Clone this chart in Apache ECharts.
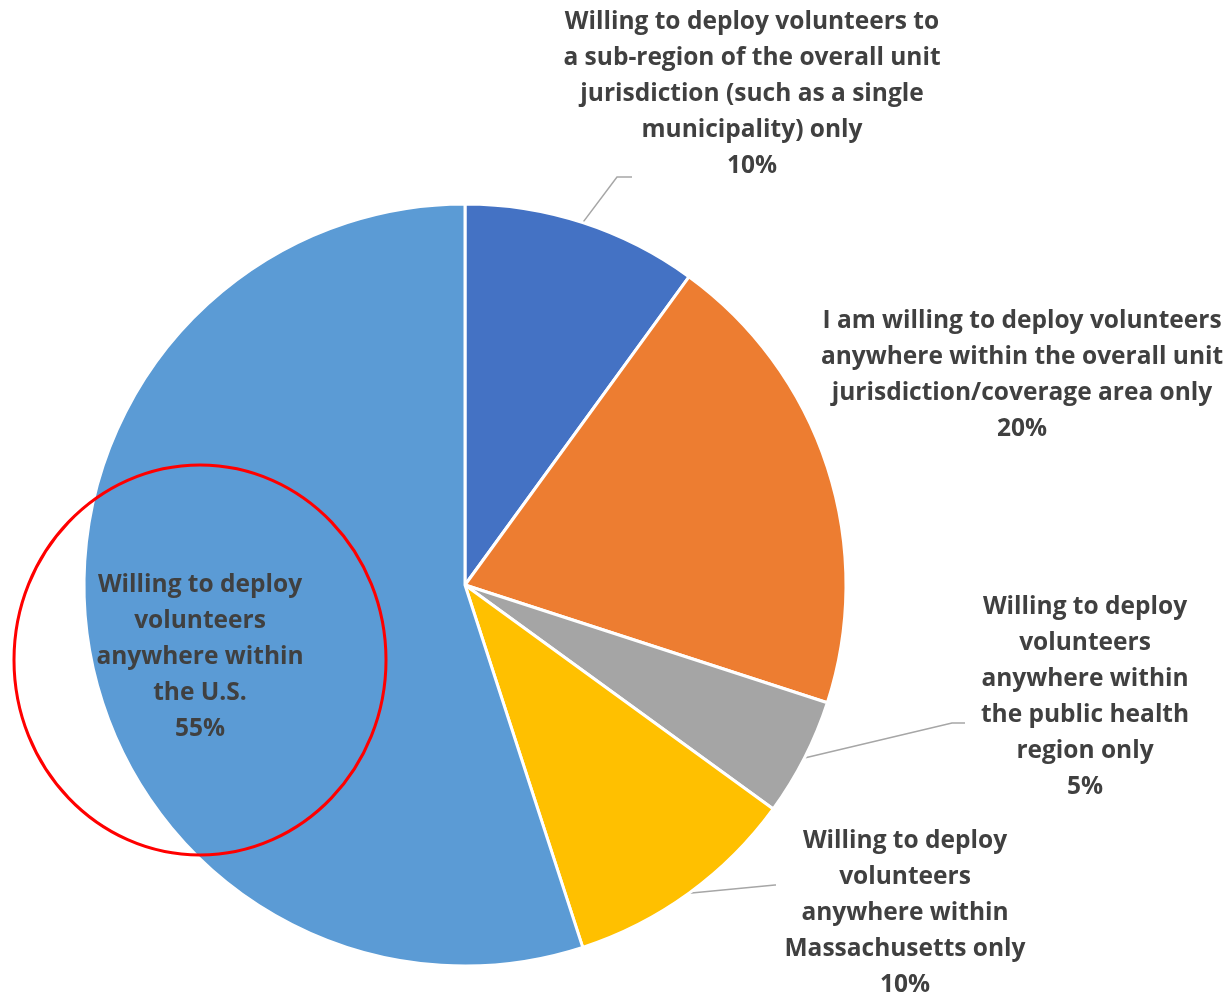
<!DOCTYPE html>
<html>
<head>
<meta charset="utf-8">
<script src="https://cdn.jsdelivr.net/npm/echarts@6/dist/echarts.min.js"></script>
<style>
  html, body { margin: 0; padding: 0; background: #fff; }
  #chart { width: 1227px; height: 997px; }
</style>
</head>
<body>
<div id="chart"></div>
<script>
// Deployment willingness categories (clockwise from 12 o'clock)
const categories = [
  'Willing to deploy volunteers to\na sub-region of the overall unit\njurisdiction (such as a single\nmunicipality) only',
  'I am willing to deploy volunteers\nanywhere within the overall unit\njurisdiction/coverage area only',
  'Willing to deploy\nvolunteers\nanywhere within\nthe public health\nregion only',
  'Willing to deploy\nvolunteers\nanywhere within\nMassachusetts only',
  'Willing to deploy\nvolunteers\nanywhere within\nthe U.S.'
];
const shares = [10, 20, 5, 10, 55];
const sliceColors = ['#4472C4', '#ED7D31', '#A5A5A5', '#FFC000', '#5B9BD5'];

// Label anchor points (centre of each text block)
const labelSpots = [
  { x: 752, y: 94 },
  { x: 1022, y: 375 },
  { x: 1085, y: 697 },
  { x: 905, y: 913 },
  { x: 200, y: 657 }
];
// Elbow and end of each leader line (null = no leader line)
const leaderBends = [
  [[617, 177], [632, 177]],
  null,
  [[952, 723], [965, 723]],
  [[775, 885], [776, 885]],
  null
];

const chart = echarts.init(document.getElementById('chart'), null, { renderer: 'canvas' });

const data = categories.map((name, i) => ({
  name: name,
  value: shares[i],
  itemStyle: { color: sliceColors[i] },
  label: i === 4 ? { position: 'inside' } : {},
  labelLine: { show: leaderBends[i] !== null }
}));

chart.setOption({
  animation: false,
  backgroundColor: '#ffffff',
  series: [{
    type: 'pie',
    center: [465, 585],
    radius: 381,
    startAngle: 90,
    clockwise: true,
    data: data,
    itemStyle: { borderColor: '#ffffff', borderWidth: 3 },
    label: {
      show: true,
      formatter: '{b}\n{c}%',
      color: '#404040',
      fontFamily: 'Open Sans',
      fontWeight: 'bold',
      fontSize: 24.5,
      lineHeight: 36,
      align: 'center',
      overflow: 'none'
    },
    labelLine: {
      show: true,
      length: 10,
      length2: 10,
      smooth: false,
      lineStyle: { color: '#A6A6A6', width: 1.5 }
    },
    labelLayout: function (params) {
      const i = params.dataIndex;
      const s = labelSpots[i];
      const out = { x: s.x, y: s.y, align: 'center', verticalAlign: 'middle' };
      if (leaderBends[i] && params.labelLinePoints) {
        out.labelLinePoints = [params.labelLinePoints[0]].concat(leaderBends[i]);
      }
      return out;
    }
  }],
  graphic: [{
    type: 'ellipse',
    shape: { cx: 200, cy: 660, rx: 186, ry: 195 },
    style: { fill: 'none', stroke: '#FF0000', lineWidth: 3 },
    z: 100
  }]
});
</script>
</body>
</html>
